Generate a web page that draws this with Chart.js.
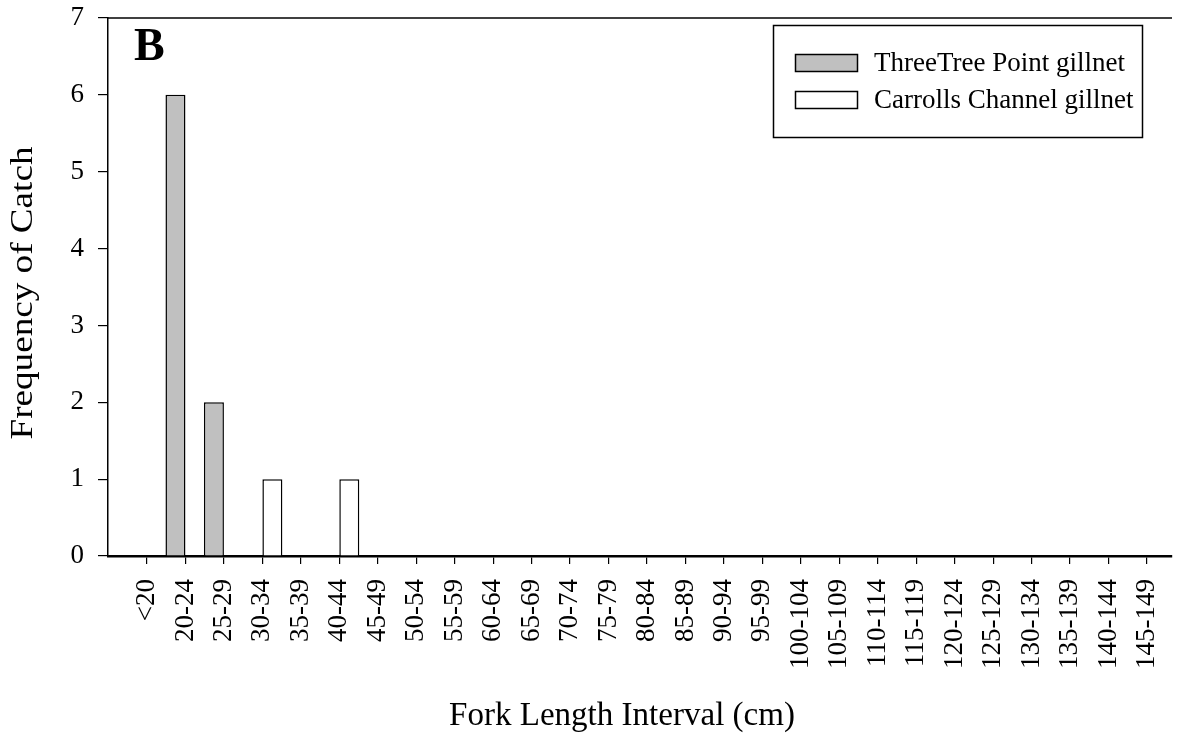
<!DOCTYPE html>
<html>
<head>
<meta charset="utf-8">
<title>Fork Length Interval</title>
<script src="https://cdn.jsdelivr.net/npm/chart.js@4.4.1/dist/chart.umd.min.js"></script>
<style>
  body { margin: 0; background: #fff; }
  #chart { display: block; }
</style>
</head>
<body>
<canvas id="chart" width="1180" height="736"></canvas>
<script>
const categories = ["<20", "20-24", "25-29", "30-34", "35-39", "40-44", "45-49", "50-54", "55-59",
  "60-64", "65-69", "70-74", "75-79", "80-84", "85-89", "90-94", "95-99", "100-104", "105-109",
  "110-114", "115-119", "120-124", "125-129", "130-134", "135-139", "140-144", "145-149"];
const threeTree = [0, 6, 2, 0, 0, 0, 0, 0, 0, 0, 0, 0, 0, 0, 0, 0, 0, 0, 0, 0, 0, 0, 0, 0, 0, 0, 0];
const carrolls = [0, 0, 0, 1, 0, 1, 0, 0, 0, 0, 0, 0, 0, 0, 0, 0, 0, 0, 0, 0, 0, 0, 0, 0, 0, 0, 0];
const yTicks = [0, 1, 2, 3, 4, 5, 6, 7];
const seriesNames = ["ThreeTree Point gillnet", "Carrolls Channel gillnet"];

const FONT = "'Liberation Serif', 'Times New Roman', serif";
Chart.defaults.color = "#000";

// text along a fixed length, stretched a little like the original figure
function fitText(ctx, text, x, y, size, len, angle) {
  ctx.save();
  ctx.font = size + "px " + FONT;
  const w = ctx.measureText(text).width;
  ctx.translate(x, y);
  ctx.rotate(angle);
  ctx.scale(len / w, 1);
  ctx.textAlign = "center";
  ctx.textBaseline = "middle";
  ctx.fillText(text, 0, 0);
  ctx.restore();
}

const decorations = {
  id: "decorations",
  afterDraw(chart) {
    const ctx = chart.ctx;
    const area = chart.chartArea;
    ctx.save();
    ctx.fillStyle = "#000";
    ctx.strokeStyle = "#000";

    // top frame line
    ctx.lineWidth = 1.5;
    ctx.beginPath();
    ctx.moveTo(area.left, area.top);
    ctx.lineTo(area.right, area.top);
    ctx.stroke();

    // axis titles
    fitText(ctx, "Fork Length Interval (cm)", 622, 716, 33, 346, 0);
    fitText(ctx, "Frequency of Catch", 24, 293, 31, 293, -Math.PI / 2);

    // panel letter
    ctx.font = "bold 46px " + FONT;
    ctx.textAlign = "left";
    ctx.textBaseline = "alphabetic";
    ctx.fillText("B", 134, 60);

    // legend box
    ctx.lineWidth = 1.5;
    ctx.strokeRect(773.5, 25.5, 369, 112);
    ctx.font = "27px " + FONT;
    ctx.textBaseline = "middle";
    chart.data.datasets.forEach((ds, i) => {
      const y = 54 + i * 37;
      ctx.fillStyle = ds.backgroundColor;
      ctx.fillRect(795, y, 63, 18);
      ctx.lineWidth = 1.5;
      ctx.strokeRect(795.5, y + 0.5, 62, 17);
      ctx.fillStyle = "#000";
      ctx.fillText(seriesNames[i], 874, y + 10);
    });
    ctx.restore();
  }
};

const ctx = document.getElementById("chart").getContext("2d");
new Chart(ctx, {
  type: "bar",
  data: {
    datasets: [
      {
        label: seriesNames[0],
        data: threeTree.map((v, i) => ({ x: i, y: v })),
        backgroundColor: "#c0c0c0",
        borderColor: "#000",
        borderWidth: 1.5,
        borderSkipped: "bottom"
      },
      {
        label: seriesNames[1],
        data: carrolls.map((v, i) => ({ x: i, y: v })),
        backgroundColor: "#ffffff",
        borderColor: "#000",
        borderWidth: 1.5,
        borderSkipped: "bottom"
      }
    ]
  },
  options: {
    responsive: false,
    animation: false,
    categoryPercentage: 1.04,
    barPercentage: 1,
    layout: { padding: { left: 0, top: 18, right: 8, bottom: 0 } },
    plugins: {
      legend: { display: false },
      tooltip: { enabled: false }
    },
    scales: {
      x: {
        type: "linear",
        min: -1.014,
        max: 26.65,
        offset: false,
        grid: {
          offset: false,
          drawOnChartArea: false,
          color: "#000",
          tickColor: "#000",
          tickLength: 8,
          lineWidth: 1.2
        },
        border: { color: "#000", width: 2.5 },
        afterBuildTicks: (scale) => {
          scale.ticks = categories.map((c, i) => ({ value: i }));
        },
        afterFit: (scale) => {
          scale.height = 180;
          scale.paddingLeft = 0;
          scale.paddingRight = 0;
        },
        ticks: {
          autoSkip: false,
          maxRotation: 90,
          minRotation: 90,
          padding: 15,
          font: { family: FONT, size: 27 },
          callback: (v) => categories[v]
        }
      },
      y: {
        min: 0,
        max: 7,
        grid: {
          drawOnChartArea: false,
          tickColor: "#000",
          tickLength: 10,
          lineWidth: 1.2
        },
        border: { color: "#000", width: 1.5 },
        afterBuildTicks: (scale) => {
          scale.ticks = yTicks.map((v) => ({ value: v }));
        },
        afterFit: (scale) => {
          scale.width = 108;
          scale.paddingTop = 0;
          scale.paddingBottom = 0;
        },
        ticks: {
          padding: 14,
          font: { family: FONT, size: 27 },
          callback: (v) => String(v)
        }
      }
    }
  },
  plugins: [decorations]
});
</script>
</body>
</html>
